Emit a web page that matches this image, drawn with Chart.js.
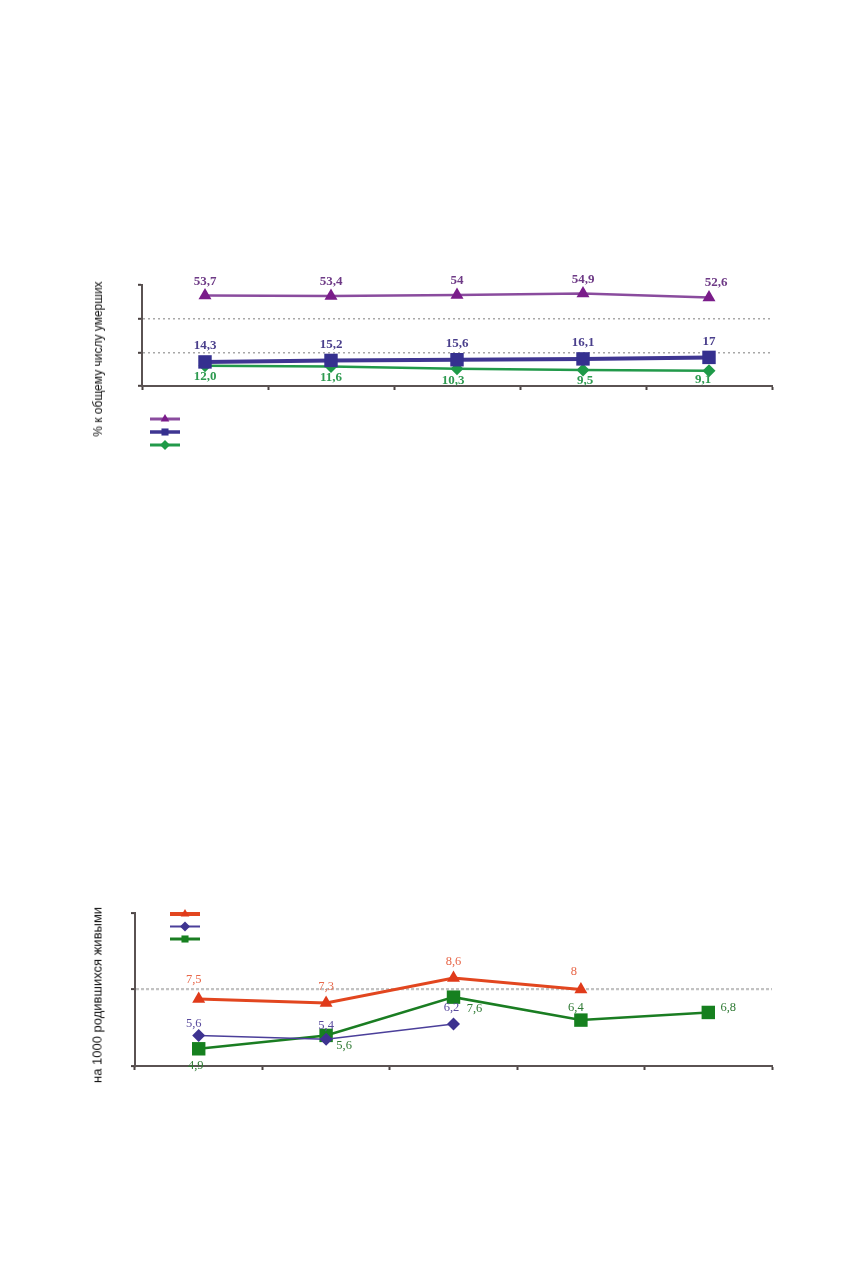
<!DOCTYPE html>
<html>
<head>
<meta charset="utf-8">
<script src="https://cdn.jsdelivr.net/npm/chart.js@4.4.2/dist/chart.umd.min.js"></script>
<style>
  body { margin: 0; background: #fff; }
  #page { position: relative; width: 856px; height: 1268px; }
  canvas { position: absolute; left: 0; }
  .ytitle {
    position: absolute;
    font-family: 'Liberation Sans', Arial, sans-serif;
    font-size: 12px;
    color: #111;
    white-space: nowrap;
    transform: translate(-50%, -50%) rotate(-90deg);
  }
</style>
</head>
<body>
<div id="page">
  <canvas id="topChart" width="856" height="250" style="top:230px"></canvas>
  <div class="ytitle" style="left:98px;top:359px">% к общему числу умерших</div>
  <canvas id="bottomChart" width="856" height="220" style="top:880px"></canvas>
  <div class="ytitle" style="left:97px;top:995px;font-size:13px">на 1000 родившихся живыми</div>
</div>

<script>
// categories (not labelled on the picture)
const periods = ['1', '2', '3', '4', '5'];

// top chart, % of all deaths
const shareA = [53.7, 53.4, 54, 54.9, 52.6];
const shareB = [14.3, 15.2, 15.6, 16.1, 17];
const shareC = [12.0, 11.6, 10.3, 9.5, 9.1];
const topTicks = [0, 20, 40, 60];

// bottom chart, per 1000 live births
const rateA = [7.5, 7.3, 8.6, 8, null];
const rateB = [5.6, 5.4, 6.2, null, null];
const rateC = [4.9, 5.6, 7.6, 6.4, 6.8];
const bottomTicks = [4, 8, 12];

// draws the value next to each point
const pointLabels = {
  id: 'pointLabels',
  afterDatasetsDraw(chart, args, opts) {
    const ctx = chart.ctx;
    chart.data.datasets.forEach((ds, i) => {
      const meta = chart.getDatasetMeta(i);
      const lab = opts.sets[i];
      ctx.save();
      ctx.font = lab.font;
      ctx.fillStyle = lab.color;
      ctx.textAlign = 'center';
      ctx.textBaseline = 'middle';
      meta.data.forEach((pt, j) => {
        const v = ds.data[j];
        if (v === null || v === undefined) return;
        const off = lab.offsets[j];
        const txt = (lab.decimals ? v.toFixed(lab.decimals) : String(v)).replace('.', ',');
        ctx.fillText(txt, pt.x + off[0], pt.y + off[1]);
      });
      ctx.restore();
    });
  }
};

// legend keys without text: short line with the marker in the middle
const lineKey = {
  id: 'lineKey',
  afterDraw(chart, args, opts) {
    const ctx = chart.ctx;
    chart.data.datasets.forEach((ds, i) => {
      const y = opts.y + i * opts.gap;
      ctx.save();
      ctx.strokeStyle = ds.borderColor;
      ctx.lineWidth = opts.widths[i];
      ctx.beginPath();
      ctx.moveTo(opts.x, y);
      ctx.lineTo(opts.x + opts.w, y);
      ctx.stroke();
      ctx.fillStyle = ds.pointBackgroundColor;
      Chart.helpers.drawPoint(ctx, { pointStyle: ds.pointStyle, radius: opts.r, rotation: 0, borderWidth: 0 }, opts.x + opts.w / 2, y);
      ctx.restore();
    });
  }
};

function makeScales(ticks, gridColor, gridWidth, dash) {
  const min = ticks[0], max = ticks[ticks.length - 1];
  return {
    x: {
      offset: true,
      ticks: { display: false },
      grid: { drawOnChartArea: false, drawTicks: true, tickLength: 4, tickColor: '#4a4242', tickWidth: 2, offset: true },
      border: { color: '#5a5252', width: 2 },
      afterFit: s => { s.height = 8; }
    },
    y: {
      min: min,
      max: max,
      afterBuildTicks: s => { s.ticks = ticks.map(v => ({ value: v })); },
      ticks: { display: false },
      grid: {
        color: c => (c.tick && c.tick.value > min && c.tick.value < max) ? gridColor : 'rgba(0,0,0,0)',
        lineWidth: gridWidth,
        tickLength: 4,
        tickColor: '#4a4242',
        tickWidth: 2,
        tickBorderDash: []
      },
      border: { color: '#5a5252', width: 2, dash: dash },
      afterFit: s => { s.width = 8; }
    }
  };
}

const serif = "'Liberation Serif', 'Times New Roman', serif";

new Chart(document.getElementById('topChart'), {
  type: 'line',
  data: {
    labels: periods,
    datasets: [
      { data: shareA, borderColor: '#8a4c9e', borderWidth: 2.5, pointStyle: 'triangle', pointRadius: 7.5,
        pointBackgroundColor: '#7a1c8a', pointBorderWidth: 0, tension: 0, clip: false },
      { data: shareB, borderColor: '#3f3692', borderWidth: 4, pointStyle: 'rect', pointRadius: 9.5,
        pointBackgroundColor: '#35308f', pointBorderWidth: 0, tension: 0, clip: false },
      { data: shareC, borderColor: '#22994a', borderWidth: 2.5, pointStyle: 'rectRot', pointRadius: 6.5,
        pointBackgroundColor: '#1e9a48', pointBorderWidth: 0, tension: 0, clip: false }
    ]
  },
  options: {
    responsive: false,
    animation: false,
    layout: { padding: { left: 134, right: 84, top: 55, bottom: 86 } },
    scales: makeScales(topTicks, '#a8a8a8', 1.6, [2, 3]),
    plugins: {
      legend: { display: false },
      tooltip: { enabled: false },
      pointLabels: {
        sets: [
          { font: 'bold 13px ' + serif, color: '#6e3a86', offsets: [[0, -14], [0, -14], [0, -14], [0, -14], [7, -15]] },
          { font: 'bold 13px ' + serif, color: '#4a3f8c', offsets: [[0, -16], [0, -16], [0, -16], [0, -16], [0, -16]] },
          { font: 'bold 13px ' + serif, color: '#2e9a50', decimals: 1, offsets: [[0, 11], [0, 11], [-4, 12], [2, 11], [-6, 9]] }
        ]
      },
      lineKey: { x: 150, y: 189, gap: 13, w: 30, r: 5, widths: [3, 3.5, 3] }
    }
  },
  plugins: [pointLabels, lineKey]
});

new Chart(document.getElementById('bottomChart'), {
  type: 'line',
  data: {
    labels: periods,
    datasets: [
      { data: rateA, borderColor: '#e2461f', borderWidth: 3, pointStyle: 'triangle', pointRadius: 7.5,
        pointBackgroundColor: '#e03a1a', pointBorderWidth: 0, tension: 0, clip: false },
      { data: rateB, borderColor: '#4b3f9a', borderWidth: 1.5, pointStyle: 'rectRot', pointRadius: 6.5,
        pointBackgroundColor: '#3e3390', pointBorderWidth: 0, tension: 0, clip: false },
      { data: rateC, borderColor: '#1a7d22', borderWidth: 2.5, pointStyle: 'rect', pointRadius: 9.5,
        pointBackgroundColor: '#16801f', pointBorderWidth: 0, tension: 0, clip: false }
    ]
  },
  options: {
    responsive: false,
    animation: false,
    layout: { padding: { left: 127, right: 84, top: 33, bottom: 26 } },
    scales: makeScales(bottomTicks, '#c2c2c2', 2.2, [3, 2]),
    plugins: {
      legend: { display: false },
      tooltip: { enabled: false },
      pointLabels: {
        sets: [
          { font: '12.5px ' + serif, color: '#e8684a', offsets: [[-5, -19], [0, -16], [0, -16], [-7, -18], [0, 0]] },
          { font: '12.5px ' + serif, color: '#5a4c9e', offsets: [[-5, -12], [0, -14], [-2, -16], [0, 0], [0, 0]] },
          { font: '12.5px ' + serif, color: '#2f7a34', offsets: [[-3, 17], [18, 10], [21, 12], [-5, -12], [20, -5]] }
        ]
      },
      lineKey: { x: 170, y: 34, gap: 12.5, w: 30, r: 5, widths: [4, 2, 3] }
    }
  },
  plugins: [pointLabels, lineKey]
});
</script>
</body>
</html>
